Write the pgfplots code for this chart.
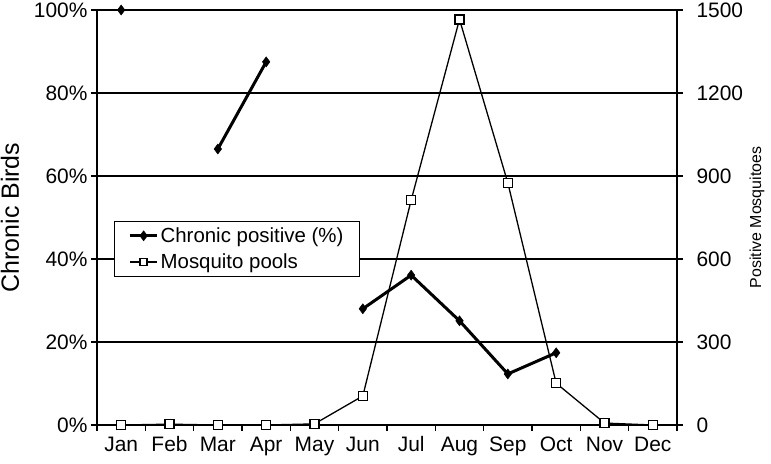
\documentclass[border=0pt]{standalone}
\usepackage{fontspec}
\setmainfont{Liberation Sans}
\usepackage{pgfplots}
\pgfplotsset{compat=1.18}

\pgfplotsset{
  chart/.style={
    scale only axis,
    width=580bp, height=415bp,
    at={(0,0)}, anchor=south west,
    xmin=0.5, xmax=12.5,
    clip=false,
    /pgf/number format/assume math mode=true,
    /pgf/number format/1000 sep={},
    tick label style={font=\fontsize{21}{25}\selectfont},
    axis line style={line width=1.3bp},
    major tick style={line width=1.3bp, black},
    minor tick style={line width=1.3bp, black},
    tick align=outside,
    major tick length=6bp,
    minor tick length=6bp,
  },
}

\begin{document}
\begin{tikzpicture}
\useasboundingbox (-97bp,-39bp) rectangle (674bp,425bp);

% left axis: chronic birds
\begin{axis}[chart,
  axis x line*=bottom, axis y line*=left,
  ymin=0, ymax=100, ytick={0,20,...,100},
  yticklabel={\pgfmathprintnumber{\tick}\%},
  ymajorgrids, grid style={line width=1.3bp, black},
  xtick={1,...,12},
  xticklabels={Jan,Feb,Mar,Apr,May,Jun,Jul,Aug,Sep,Oct,Nov,Dec},
  xticklabel style={text height=15bp, text depth=4bp, yshift=-2bp},
  every major x tick/.append style={draw=none},
  minor xtick={0.5,1.5,...,12.5},
  ylabel={\fontsize{25}{30}\selectfont Chronic Birds},
  ylabel style={at={(axis description cs:-0.15,0.5)}, anchor=center},
  unbounded coords=jump,
  legend style={at={(axis description cs:0.0293,0.4916)}, anchor=north west,
    draw=black, line width=1.3bp, fill=white,
    font=\fontsize{20.5}{24}\selectfont, inner xsep=14bp, inner ysep=4bp, row sep=6bp},
  legend cell align=left,
  legend image code/.code={
    \draw[mark repeat=2, mark phase=2, #1] plot coordinates {(0bp,0bp) (13.5bp,0bp) (27bp,0bp)};},
]
\addplot[black, line width=3bp, mark=diamond*, mark size=5bp,
  mark options={solid, line width=0.5bp}]
  coordinates {(1,100) (2,nan) (3,66.5) (4,87.5) (5,nan) (6,28) (7,36.1) (8,25.1) (9,12.3) (10,17.4)};
\addlegendentry{Chronic positive (\%)}
\addlegendimage{black, line width=1.3bp, mark=square*, mark size=3.5bp,
  mark options={fill=white, line width=1.3bp}}
\addlegendentry{Mosquito pools}
\end{axis}

% right axis: positive mosquitoes
\begin{axis}[chart,
  axis x line=none, axis y line*=right,
  ymin=0, ymax=1500, ytick={0,300,...,1500},
  ylabel={\fontsize{16}{19}\selectfont Positive Mosquitoes},
  ylabel style={at={(axis description cs:1.138,0.5)}, anchor=center, rotate=0},
  yticklabel style={xshift=10bp},
]
\addplot[black, line width=1.3bp, mark=square*, mark size=4.5bp,
  mark options={fill=white, line width=1.3bp}]
  coordinates {(1,0) (2,3) (3,0) (4,0) (5,4) (6,105) (7,813) (8,1466) (9,875) (10,151) (11,7) (12,0)};
\end{axis}
\end{tikzpicture}
\end{document}
